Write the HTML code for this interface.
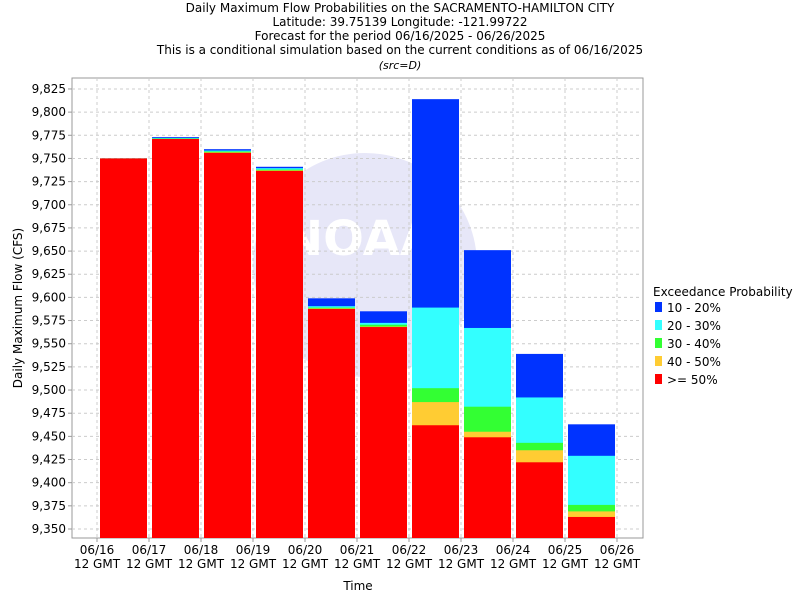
<!DOCTYPE html>
<html><head><meta charset="utf-8"><style>
body{margin:0;background:#fff;font-family:"Liberation Sans","DejaVu Sans",sans-serif;}
</style></head><body>
<svg id="c" width="800" height="600" xmlns="http://www.w3.org/2000/svg" font-family="DejaVu Sans, Liberation Sans, sans-serif">
<g font-size="12" text-anchor="middle" fill="#000">
<text x="400" y="12">Daily Maximum Flow Probabilities on the SACRAMENTO-HAMILTON CITY</text>
<text x="400" y="26">Latitude: 39.75139 Longitude: -121.99722</text>
<text x="400" y="40">Forecast for the period 06/16/2025 - 06/26/2025</text>
<text x="400" y="54">This is a conditional simulation based on the current conditions as of 06/16/2025</text>
<text x="400" y="69" font-style="italic" font-size="11">(src=D)</text>
</g>
<rect x="72" y="78" width="571" height="460" fill="#fff" stroke="#999"/>
<g opacity="0.6">
<circle cx="365" cy="265" r="112" fill="#d8d8f4"/>
<text x="360" y="255" font-size="48" font-weight="bold" fill="#fff" text-anchor="middle">NOAA</text>
</g>
<g id="grid"></g>
<g id="bars"></g>
<g id="axes"></g>
<text x="358" y="590" font-size="12" text-anchor="middle">Time</text>
<text transform="translate(22,308) rotate(-90)" font-size="12" text-anchor="middle">Daily Maximum Flow (CFS)</text>
<g font-size="12">
<text x="653" y="296">Exceedance Probability</text>
<g id="leg"></g>
</g>
</svg>
<script>
const dates = ["06/16","06/17","06/18","06/19","06/20","06/21","06/22","06/23","06/24","06/25","06/26"];
const yTicks = [9350,9375,9400,9425,9450,9475,9500,9525,9550,9575,9600,9625,9650,9675,9700,9725,9750,9775,9800,9825];
const seriesNames = ["10 - 20%","20 - 30%","30 - 40%","40 - 50%",">= 50%"];
const seriesColors = ["#0033ff","#33ffff","#33ff33","#ffcc33","#ff0000"];
// cumulative top values per bar
const ge50 = [9750,9771,9756,9736.5,9587.5,9568,9462,9449,9422,9363];
const p40 = [9750,9771,9756.5,9737,9588,9568.5,9487,9455,9435,9369];
const p30 = [9750,9771.5,9757.5,9738,9589,9570.5,9502,9482,9443,9376];
const p20 = [9750,9772,9758.5,9739.5,9590.5,9572.5,9589,9567,9492,9429];
const p10 = [9750,9773,9760,9741,9599,9585,9814,9651,9539,9463];
const ns="http://www.w3.org/2000/svg";
const yMin=9350, yPx0=529, pxPer=23.16/25;
const y = v => yPx0-(v-yMin)*pxPer;
const x = i => 97+52*i;
function mk(t,a,p){const e=document.createElementNS(ns,t);for(const k in a)e.setAttribute(k,a[k]);p.appendChild(e);return e;}
const grid=document.getElementById('grid'), axes=document.getElementById('axes'), bars=document.getElementById('bars');
yTicks.forEach(v=>{
  const l=mk('line',{x1:72,x2:643,y1:y(v),y2:y(v),stroke:'#ccc','stroke-dasharray':'3,3'},grid);
  
  
  const t=mk('text',{x:66,y:y(v)+4,'font-size':12,'text-anchor':'end'},axes);
  t.textContent=v.toLocaleString('en-US');
  
  
  mk('line',{x1:68,x2:72,y1:y(v),y2:y(v),stroke:'#999'},axes);
});
dates.forEach((d,i)=>{
  const l=mk('line',{x1:x(i),x2:x(i),y1:78,y2:538,stroke:'#ccc','stroke-dasharray':'3,3'},grid);
  
  
  mk('line',{x1:x(i),x2:x(i),y1:538,y2:542,stroke:'#999'},axes);
  const t=mk('text',{x:x(i),y:554,'font-size':12,'text-anchor':'middle'},axes);
  t.textContent=d;
  
  
  const t2=mk('text',{x:x(i),y:568,'font-size':12,'text-anchor':'middle'},axes);
  t2.textContent='12 GMT';
  
  
});
const stacks=[p10,p20,p30,p40,ge50];
ge50.forEach((_,i)=>{
  stacks.forEach((arr,s)=>{
    const top=y(arr[i]);
    const r=mk('rect',{x:x(i)+3,y:top,width:47,height:538-top,fill:seriesColors[s]},bars);
    
    
  });
});
const leg=document.getElementById('leg');
seriesNames.forEach((n,s)=>{
  const r=mk('rect',{x:655,y:302+s*18,width:7,height:10,fill:seriesColors[s]},leg);
  
  
  const t=mk('text',{x:667,y:312+s*18},leg);
  t.textContent=n;
  
  
});
</script>
</body></html>
